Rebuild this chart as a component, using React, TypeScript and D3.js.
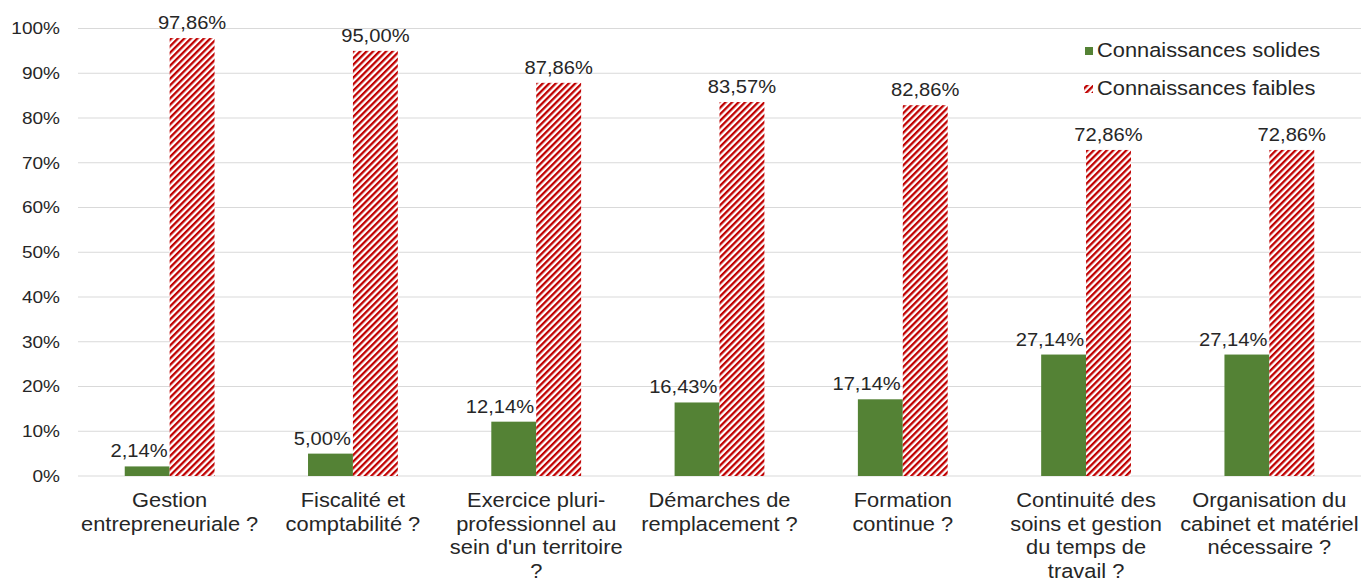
import React from "react";
import * as d3 from "d3";

const categories = [
  "Gestion entrepreneuriale ?",
  "Fiscalité et comptabilité ?",
  "Exercice pluri-professionnel au sein d'un territoire ?",
  "Démarches de remplacement ?",
  "Formation continue ?",
  "Continuité des soins et gestion du temps de travail ?",
  "Organisation du cabinet et matériel nécessaire ?",
];
const categoryLines = [
  ["Gestion", "entrepreneuriale ?"],
  ["Fiscalité et", "comptabilité ?"],
  ["Exercice pluri-", "professionnel au", "sein d'un territoire", "?"],
  ["Démarches de", "remplacement ?"],
  ["Formation", "continue ?"],
  ["Continuité des", "soins et gestion", "du temps de", "travail ?"],
  ["Organisation du", "cabinet et matériel", "nécessaire ?"],
];
const solidValues = [2.14, 5.0, 12.14, 16.43, 17.14, 27.14, 27.14];
const weakValues = [97.86, 95.0, 87.86, 83.57, 82.86, 72.86, 72.86];
const yTicks = [0, 10, 20, 30, 40, 50, 60, 70, 80, 90, 100];
const seriesNames = ["Connaissances solides", "Connaissances faibles"];

const W = 1361;
const H = 578;
const SX = 1.12;
const FONT = "'Liberation Sans', Arial, sans-serif";
const TXT = "#262626";
const GREEN = "#548235";
const RED = "#C00000";

const fmt = (v: number) => v.toFixed(2).replace(".", ",") + "%";

export default function App() {
  const x = d3
    .scaleBand<string>()
    .domain(categories)
    .range([78, 1361])
    .paddingInner(0.51)
    .paddingOuter(0.255);
  const sub = d3
    .scaleBand<string>()
    .domain(seriesNames)
    .range([0, x.bandwidth()]);
  const y = d3.scaleLinear().domain([0, 100]).range([476, 28.5]);

  const T = (
    key: string,
    tx: number,
    ty: number,
    s: string,
    size: number,
    anchor: "start" | "middle" | "end",
    dy?: string
  ) => (
    <text
      key={key}
      transform={`translate(${tx},${ty}) scale(${SX},1)`}
      textAnchor={anchor}
      fontSize={size}
      fontFamily={FONT}
      fill={TXT}
      dy={dy}
    >
      {s}
    </text>
  );

  return (
    <svg
      width={W}
      height={H}
      style={{ position: "absolute", left: 0, top: 0, background: "#fff" }}
    >
      <defs>
        <pattern
          id="hatch"
          patternUnits="userSpaceOnUse"
          width={4.6}
          height={4.6}
          patternTransform="rotate(45)"
        >
          <rect x={0} y={0} width={4.6} height={4.6} fill="#fff" />
          <rect x={0} y={0} width={2.3} height={4.6} fill={RED} />
        </pattern>
      </defs>

      {yTicks.map((t) => (
        <line
          key={"g" + t}
          x1={78}
          x2={1361}
          y1={y(t)}
          y2={y(t)}
          stroke="#D9D9D9"
          strokeWidth={1}
        />
      ))}
      {yTicks.map((t) => T("yt" + t, 60, y(t), `${t}%`, 17, "end", "0.35em"))}

      {categories.map((c, i) => {
        const x0 = x(c)!;
        const gx = x0 + sub(seriesNames[0])!;
        const rx = x0 + sub(seriesNames[1])!;
        const bw = sub.bandwidth();
        return (
          <g key={c}>
            <rect
              x={gx}
              y={y(solidValues[i])}
              width={bw}
              height={y(0) - y(solidValues[i])}
              fill={GREEN}
            />
            <rect
              x={rx}
              y={y(weakValues[i])}
              width={bw}
              height={y(0) - y(weakValues[i])}
              fill="url(#hatch)"
            />
            {T("ls" + i, gx + bw - 2, y(solidValues[i]) - 9, fmt(solidValues[i]), 18, "end")}
            {T("lw" + i, rx + bw / 2, y(weakValues[i]) - 9, fmt(weakValues[i]), 18, "middle")}
            {categoryLines[i].map((ln, j) =>
              T("c" + i + "_" + j, x0 + x.bandwidth() / 2, 507 + j * 23.5, ln, 19.5, "middle")
            )}
          </g>
        );
      })}

      <rect x={1085} y={47} width={8} height={8} fill={GREEN} />
      {T("leg0", 1097, 57, seriesNames[0], 19.5, "start")}
      <rect x={1084} y={85} width={9} height={8} fill="url(#hatch)" />
      {T("leg1", 1097, 95, seriesNames[1], 19.5, "start")}
    </svg>
  );
}
